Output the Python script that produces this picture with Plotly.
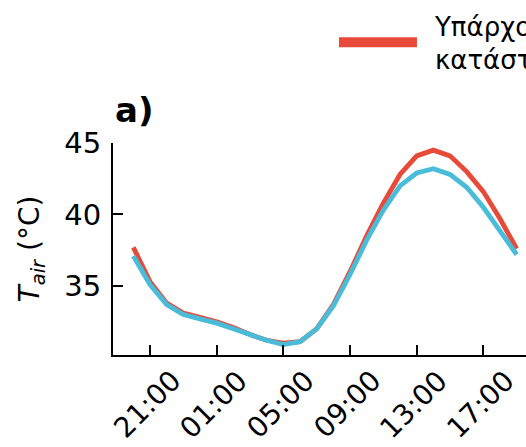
import plotly.graph_objects as go

# hours (20:00 on day 1 through 19:00 on day 2), expressed as continuous hours
hours = list(range(20, 44))
existing = [37.7, 35.3, 33.8, 33.1, 32.8, 32.5, 32.1, 31.6, 31.2, 31.0, 31.1, 32.0,
            33.7, 36.0, 38.5, 40.8, 42.8, 44.1, 44.5, 44.1, 43.0, 41.6, 39.7, 37.6]
proposed = [37.1, 35.1, 33.7, 33.0, 32.7, 32.4, 32.0, 31.6, 31.2, 30.9, 31.1, 32.0,
            33.6, 35.8, 38.2, 40.3, 42.0, 42.9, 43.2, 42.8, 41.9, 40.5, 38.9, 37.2]
tick_hours = [21, 25, 29, 33, 37, 41]
tick_labels = ["21:00", "01:00", "05:00", "09:00", "13:00", "17:00"]
y_ticks = [35, 40, 45]

RED = "#E84A3A"
CYAN = "#48BCD8"
FONT = "DejaVu Sans"

fig = go.Figure()
fig.add_trace(go.Scatter(x=hours, y=existing, mode="lines",
                         line=dict(color=RED, width=4.8), showlegend=False,
                         name="Υπάρχουσα κατάσταση"))
fig.add_trace(go.Scatter(x=hours, y=proposed, mode="lines",
                         line=dict(color=CYAN, width=4.8), showlegend=False,
                         name="Προτεινόμενη κατάσταση"))
# legend proxy (no data points)
fig.add_trace(go.Scatter(x=[None], y=[None], mode="lines",
                         line=dict(color=RED, width=12),
                         name="\u2002Υπάρχουσα<br>\u2002κατάσταση", showlegend=True))

fig.update_xaxes(range=[18.78, 43.56], tickvals=tick_hours, ticktext=tick_labels,
                 showticklabels=False, ticks="inside", ticklen=10, tickwidth=2,
                 tickcolor="black", showline=True, linewidth=2, linecolor="black",
                 showgrid=False, zeroline=False)
fig.update_yaxes(range=[30.17, 45], tickvals=y_ticks, ticks="inside", ticklen=10,
                 tickwidth=2, tickcolor="black", showline=True, linewidth=2,
                 linecolor="black", showgrid=False, zeroline=False,
                 tickfont=dict(family=FONT, size=29, color="black"),
                 ticklabelstandoff=4,
                 title=dict(text="<i>T</i><sub><i>air</i></sub> (°C)",
                            font=dict(family=FONT, size=28, color="black"),
                            standoff=16))

for h, lab in zip(tick_hours, tick_labels):
    fig.add_annotation(x=h, y=-0.232, xref="x", yref="paper", text=lab,
                       textangle=-45, showarrow=False, xanchor="center",
                       yanchor="middle", xshift=-3,
                       font=dict(family=FONT, size=28, color="black"))

fig.add_annotation(x=0, y=1.158, xref="paper", yref="paper", text="<b>a)</b>",
                   showarrow=False, xanchor="left", yanchor="middle",
                   font=dict(family=FONT, size=34, color="black"))

fig.update_layout(
    width=526, height=447,
    margin=dict(l=113, r=0, t=143, b=92, autoexpand=False),
    paper_bgcolor="white", plot_bgcolor="white",
    legend=dict(x=0.535, y=1.665, xanchor="left", yanchor="top",
                font=dict(family=FONT, size=26, color="black"),
                itemwidth=78, bgcolor="rgba(0,0,0,0)", valign="middle"),
)

fig.write_html("out.html")
